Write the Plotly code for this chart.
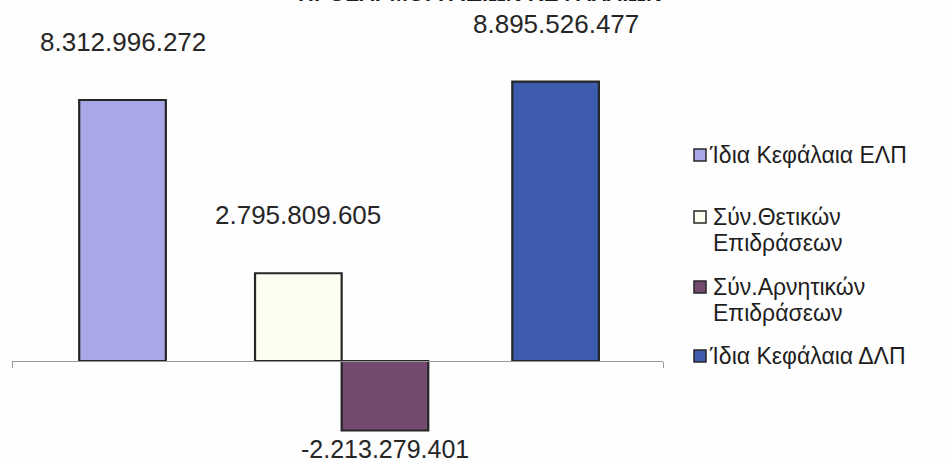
import plotly.graph_objects as go

# Series shown as individual bars (ΕΛΠ equity -> adjustments -> ΔΛΠ equity)
series_names = [
    "Ίδια Κεφάλαια ΕΛΠ",
    "Σύν.Θετικών\nΕπιδράσεων",
    "Σύν.Αρνητικών\nΕπιδράσεων",
    "Ίδια Κεφάλαια ΔΛΠ",
]
series_values = [8312996272, 2795809605, -2213279401, 8895526477]
bar_slots = [0, 2.03, 3.03, 5]
title_text = "ΠΡΟΣΑΡΜΟΓΗ ΙΔΙΩΝ ΚΕΦΑΛΑΙΩΝ"

fill_colors = ["#A8A8E8", "#FEFEF0", "#734A6E", "#3D5CAE"]
edge_color = "#262626"

W, H = 947, 463
M_L, M_R, M_T, M_B = 12, 284, 60, 18
PLOT_W = W - M_L - M_R
PLOT_H = H - M_T - M_B

x_range = [-1.276, 6.24]
y_range = [-2.675e9, 9.587e9]

FONT = "Liberation Sans, Arial, sans-serif"


def thousands(v):
    s = f"{abs(v):,}".replace(",", ".")
    return ("-" if v < 0 else "") + s


def px_x(px):
    return (px - M_L) / PLOT_W


def px_y(py):
    return (H - M_B - py) / PLOT_H


fig = go.Figure()

for name, val, slot, col in zip(series_names, series_values, bar_slots, fill_colors):
    fig.add_trace(go.Bar(
        x=[slot], y=[val], width=1.0,
        name=name.replace("\n", " "),
        marker=dict(color=col, line=dict(color=edge_color, width=2.2)),
        showlegend=False, hoverinfo="skip",
    ))

annotations = []
# value labels above / below each bar
for val, slot in zip(series_values, bar_slots):
    annotations.append(dict(
        x=slot, y=val, xref="x", yref="y", text=thousands(val),
        showarrow=False, xanchor="center", yanchor="middle",
        yshift=58 if val >= 0 else -18,
        font=dict(family=FONT, size=26 if val >= 0 else 25, color="#262626"),
    ))

# legend block on the right
legend_rows = [155, 217, 287, 356]
legend_text_x = [708, 712, 712, 708]
shapes = []
for name, col, row, tx in zip(series_names, fill_colors, legend_rows, legend_text_x):
    shapes.append(dict(
        type="rect", xref="paper", yref="paper",
        x0=px_x(694), x1=px_x(706), y0=px_y(row + 6), y1=px_y(row - 6),
        fillcolor=col, line=dict(color=edge_color, width=1.5),
    ))
    for i, line in enumerate(name.split("\n")):
        annotations.append(dict(
            x=px_x(tx), y=px_y(row + i * 26), xref="paper", yref="paper",
            text=line, showarrow=False, xanchor="left", yanchor="middle",
            borderpad=0,
            font=dict(family=FONT, size=23, color="#1E1E1E"),
        ))

# chart title, mostly above the visible area
annotations.append(dict(
    x=px_x(480), y=px_y(8), xref="paper", yref="paper", text=f"<b>{title_text}</b>",
    showarrow=False, xanchor="center", yanchor="bottom",
    font=dict(family=FONT, size=22, color="#1E1E1E"),
))

zero_pos = (0 - y_range[0]) / (y_range[1] - y_range[0])

fig.update_layout(
    width=W, height=H,
    margin=dict(l=M_L, r=M_R, t=M_T, b=M_B, pad=0),
    paper_bgcolor="#FEFEFE", plot_bgcolor="rgba(0,0,0,0)",
    barmode="overlay",
    xaxis=dict(
        range=x_range, anchor="free", position=zero_pos,
        showgrid=False, zeroline=False,
        showline=True, linecolor="#9A9A9A", linewidth=1,
        tickmode="array", tickvals=x_range, ticks="outside", ticklen=6,
        tickcolor="#9A9A9A", showticklabels=False,
    ),
    yaxis=dict(range=y_range, visible=False, showgrid=False, zeroline=False),
    annotations=annotations,
    shapes=shapes,
)

fig.write_html("out.html")
